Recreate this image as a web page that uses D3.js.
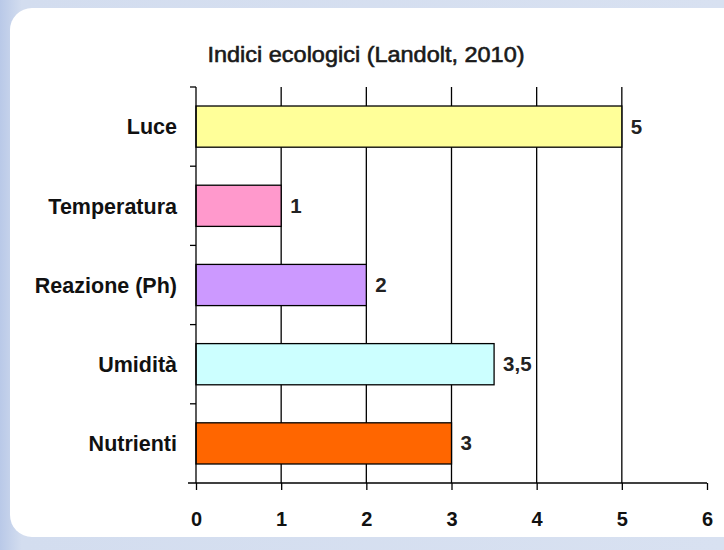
<!DOCTYPE html>
<html><head><meta charset="utf-8">
<script src="https://cdn.jsdelivr.net/npm/d3@7"></script>
<style>body{margin:0;padding:0;overflow:hidden;background:#fff}</style>
</head><body>
<script>
const categories = ["Luce", "Temperatura", "Reazione (Ph)", "Umidità", "Nutrienti"];
const values = [5, 1, 2, 3.5, 3];
const valueLabels = ["5", "1", "2", "3,5", "3"];
const barColors = ["#ffff99", "#ff99cc", "#cc99ff", "#ccffff", "#ff6600"];
const xTicks = [0, 1, 2, 3, 4, 5, 6];
const title = "Indici ecologici (Landolt, 2010)";

const W = 724, H = 550;
const svg = d3.select("body").append("svg").attr("width", W).attr("height", H);
const defs = svg.append("defs");
const lg = defs.append("linearGradient").attr("id", "bg").attr("x1", 0).attr("x2", 1).attr("y1", 0).attr("y2", 0);
lg.append("stop").attr("offset", "0").attr("stop-color", "#b9c9e8");
lg.append("stop").attr("offset", "0.03").attr("stop-color", "#d3ddef");
lg.append("stop").attr("offset", "1").attr("stop-color", "#d8e1f1");
svg.append("rect").attr("width", W).attr("height", H).attr("fill", "url(#bg)");
svg.append("rect").attr("x", 10).attr("y", 8).attr("width", 760).attr("height", 529).attr("rx", 22).attr("fill", "#ffffff");

const x0 = 196, x1 = 707, yTop = 87, yBot = 483;
const x = d3.scaleLinear().domain([0, 6]).range([x0, x1]);
const y = d3.scaleBand().domain(categories).range([yTop, yBot]).paddingInner(0.48).paddingOuter(0.24);

const font = "Arial, 'Liberation Sans', sans-serif";

svg.append("text").attr("x", 366).attr("y", 62).attr("text-anchor", "middle")
  .attr("font-family", font).attr("font-size", 22).attr("fill", "#1a1a1a")
  .attr("stroke", "#1a1a1a").attr("stroke-width", 0.6)
  .attr("textLength", 317).attr("lengthAdjust", "spacingAndGlyphs").text(title);

// gridlines
svg.append("g").selectAll("line").data(xTicks.filter(t => t > 0 && t < 6)).join("line")
  .attr("x1", d => x(d)).attr("x2", d => x(d)).attr("y1", yTop).attr("y2", yBot)
  .attr("stroke", "#000").attr("stroke-width", 1.3);

// bars
svg.append("g").selectAll("rect").data(categories).join("rect")
  .attr("x", x(0)).attr("y", d => y(d))
  .attr("width", (d, i) => x(values[i]) - x(0)).attr("height", y.bandwidth())
  .attr("fill", (d, i) => barColors[i]).attr("stroke", "#000").attr("stroke-width", 1.3);

// value labels
svg.append("g").selectAll("text").data(categories).join("text")
  .attr("x", (d, i) => x(values[i]) + 9).attr("y", d => y(d) + y.bandwidth() / 2 + 7)
  .attr("font-family", font).attr("font-size", 20.5).attr("font-weight", "bold").attr("fill", "#222")
  .text((d, i) => valueLabels[i]);

// x axis
const xAxis = d3.axisBottom(x).tickValues(xTicks).tickSize(7).tickPadding(22).tickFormat(d3.format("d"));
const gx = svg.append("g").attr("transform", `translate(0,${yBot})`).call(xAxis);
gx.select(".domain").attr("d", `M${x0 - 8},0H${x1}`).attr("stroke", "#000").attr("stroke-width", 1.3);
gx.selectAll(".tick line").attr("stroke", "#000").attr("stroke-width", 1.3);
gx.selectAll(".tick text").attr("font-family", font).attr("font-size", 20).attr("font-weight", "bold").attr("fill", "#111");

// y axis with boundary ticks
const boundaries = d3.range(categories.length + 1).map(i => yTop + i * (yBot - yTop) / categories.length);
const gy = svg.append("g");
gy.append("line").attr("x1", x0).attr("x2", x0).attr("y1", yTop).attr("y2", yBot).attr("stroke", "#000").attr("stroke-width", 1.3);
gy.selectAll("line.b").data(boundaries.slice(0, -1)).join("line").attr("class", "b")
  .attr("x1", x0 - 6).attr("x2", x0).attr("y1", d => d).attr("y2", d => d).attr("stroke", "#000").attr("stroke-width", 1.3);
const yAxis = d3.axisLeft(y).tickSize(0).tickPadding(19);
const gyl = svg.append("g").attr("transform", `translate(${x0},0)`).call(yAxis);
gyl.select(".domain").remove();
gyl.selectAll(".tick text").attr("font-family", font).attr("font-size", 21.5).attr("font-weight", "bold").attr("fill", "#111").attr("dy", "0.36em");
</script>
</body></html>
